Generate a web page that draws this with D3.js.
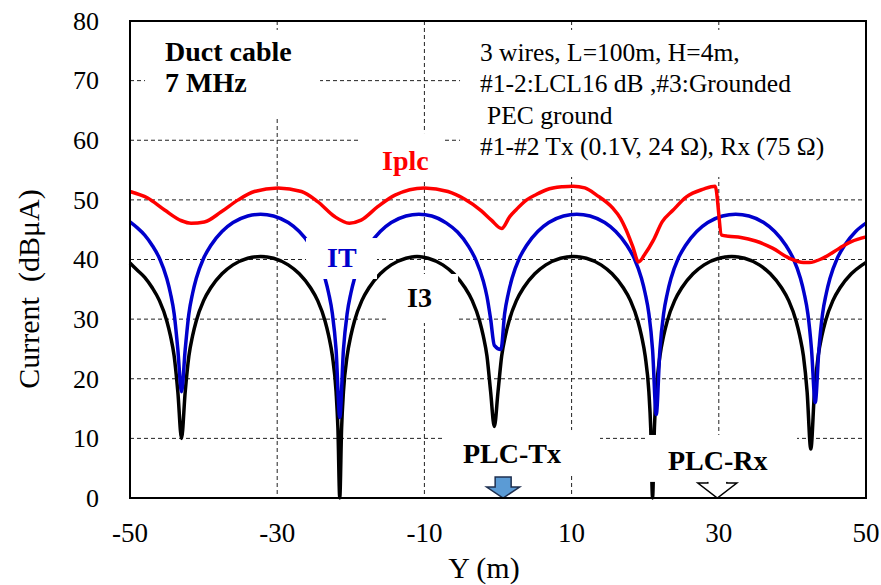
<!DOCTYPE html>
<html><head><meta charset="utf-8">
<script src="https://cdn.jsdelivr.net/npm/d3@7"></script>
<style>body{margin:0;background:#fff}</style>
</head><body>
<svg id="c" width="881" height="585"></svg>
<script>
// ---- data ----
const xTicks = [-50, -30, -10, 10, 30, 50];
const yTicks = [0, 10, 20, 30, 40, 50, 60, 70, 80];
const xGrid = [-30, -10, 10, 30];
const yGrid = [10, 20, 30, 40, 50, 60, 70];

// Iplc (red)  [Y (m), dBuA]
const iplc = [[-50,51.4],[-47.6,50.3],[-45.3,48.3],[-43,46.5],[-41.7,46.1],[-39.9,46.3],[-37.6,48.0],[-35.3,50.0],[-33.1,51.4],[-29.9,52.0],[-26.7,51.4],[-24.5,49.7],[-22.2,47.2],[-20.2,46.1],[-18.6,46.6],[-16.3,48.9],[-14,50.8],[-10,52.0],[-6.8,51.4],[-4.5,50.1],[-2.3,48.2],[-0.9,46.6],[0.5,45.2],[1.6,47.2],[2.5,48.4],[3.9,50.0],[5.2,50.9],[6.6,51.7],[8.8,52.2],[10.2,52.3],[11.8,52.0],[13.4,50.8],[15.6,48.6],[16.6,47.0],[17.4,45.0],[18.3,42.2],[19.1,39.6],[19.9,40.8],[21.1,43.2],[22.3,46.3],[23.8,48.3],[25.6,50.5],[27.9,51.8],[29.5,52.3],[30.4,44.1],[31.3,43.9],[33,43.7],[35,43.1],[37.3,41.9],[39.6,40.2],[41.5,39.5],[42.3,39.5],[44.1,40.2],[46.4,41.9],[48,43.0],[50,43.8]];

// IT (blue)
const it = [[-50,46.3],[-49,45.3],[-48,44.1],[-47,42.4],[-46,40.2],[-45,36.8],[-44.5,34.3],[-44,30.9],[-43.5,24.9],[-43,17.8],[-42.5,24.9],[-42,30.9],[-41.5,34.3],[-41,36.8],[-40,40.2],[-39,42.4],[-37.5,44.7],[-36,46.2],[-34,47.3],[-32.25,47.6],[-30.5,47.3],[-28.5,46.2],[-27,44.7],[-25.5,42.4],[-24.5,40.2],[-23.5,36.8],[-23,34.3],[-22.5,30.9],[-22,24.9],[-21.5,13.5],[-21,24.9],[-20.5,30.9],[-20,34.3],[-19.5,36.8],[-18.5,40.2],[-17.5,42.4],[-16,44.7],[-14.5,46.2],[-12.5,47.3],[-10.75,47.6],[-9,47.3],[-7,46.1],[-5.5,44.6],[-4,42.2],[-3,39.9],[-2,36.4],[-1.5,33.8],[-1,30.0],[-0.5,25.6],[0.4,24.9],[0.9,30.9],[1.4,34.3],[1.9,36.8],[2.9,40.2],[3.9,42.4],[5.4,44.7],[6.9,46.2],[8.9,47.3],[10.7,47.6],[12.5,47.3],[14.5,46.2],[16,44.7],[17.5,42.4],[18.5,40.2],[19.5,36.8],[20,34.3],[20.5,30.9],[21,24.9],[21.5,14.0],[22,24.9],[22.5,30.9],[23,34.3],[23.5,36.8],[24.5,40.2],[25.5,42.4],[27,44.7],[28.5,46.2],[30.5,47.3],[32.3,47.6],[34.1,47.3],[36.1,46.2],[37.6,44.7],[39.1,42.4],[40.1,40.2],[41.1,36.8],[41.6,34.3],[42.1,30.9],[42.6,24.9],[43.1,16.0],[43.6,24.9],[44.1,30.9],[44.6,34.3],[45.1,36.8],[46.1,40.2],[47.1,42.4],[48.6,44.7],[50,46.1]];

// I3 (black)
const i3 = [[-50,39.4],[-49,38.2],[-48,37.0],[-47,35.3],[-46,33.1],[-45,29.7],[-44.5,27.2],[-44,23.8],[-43.5,17.8],[-43,10.0],[-42.5,17.8],[-42,23.8],[-41.5,27.2],[-41,29.7],[-40,33.1],[-39,35.3],[-37.5,37.6],[-36,39.1],[-34,40.2],[-32.25,40.5],[-30.5,40.2],[-28.5,39.1],[-27,37.6],[-25.5,35.3],[-24.5,33.1],[-23.5,29.7],[-23,27.2],[-22.5,23.8],[-22,17.8],[-21.75,11.7],[-21.5,0],[-21.25,11.7],[-21,17.8],[-20.5,23.8],[-20,27.2],[-19.5,29.7],[-18.5,33.1],[-17.5,35.3],[-16,37.6],[-14.5,39.1],[-12.5,40.2],[-11,40.5],[-9.5,40.2],[-7.5,39.1],[-6,37.6],[-4.5,35.3],[-3.5,33.1],[-2.5,29.7],[-2,27.2],[-1.5,23.8],[-1,17.8],[-0.5,12.0],[0,17.8],[0.5,23.8],[1,27.2],[1.5,29.7],[2.5,33.1],[3.5,35.3],[5,37.6],[6.5,39.1],[8.5,40.2],[10.25,40.5],[12,40.2],[14,39.1],[15.5,37.6],[17,35.3],[18,33.1],[19,29.7],[19.5,27.2],[20,23.8],[20.5,17.8],[20.75,11.7],[21,0],[21.25,11.7],[21.5,17.8],[22,23.8],[22.5,27.2],[23,29.7],[24,33.1],[25,35.3],[26.5,37.6],[28,39.1],[30,40.2],[31.75,40.5],[33.5,40.2],[35.5,39.1],[37,37.6],[38.5,35.3],[39.5,33.1],[40.5,29.7],[41,27.2],[41.5,23.8],[42,17.8],[42.5,8.2],[43,17.8],[43.5,23.8],[44,27.2],[44.5,29.7],[45.5,33.1],[46.5,35.3],[48,37.6],[49.5,39.1],[50,39.5]];

const markers = [{label: "PLC-Tx", pos: 0.7}, {label: "PLC-Rx", pos: 29.8}];
const infoLines = ["3 wires, L=100m, H=4m,", "#1-2:LCL16 dB ,#3:Grounded", "PEC ground", "#1-#2 Tx (0.1V, 24 \u03A9), Rx (75 \u03A9)"];
const titleLines = ["Duct cable", "7 MHz"];

// ---- layout ----
const svg = d3.select("#c");
const L = 130, R = 866, T = 21, B = 498;
const x = d3.scaleLinear().domain([-50, 50]).range([L, R]);
const y = d3.scaleLinear().domain([0, 80]).range([B, T]);
const FONT = "'Liberation Serif','Times New Roman',serif";

// grid
const g = svg.append("g");
g.selectAll("line.h").data(yGrid).join("line")
  .attr("x1", L).attr("x2", R).attr("y1", d => y(d)).attr("y2", d => y(d))
  .attr("stroke", "#222").attr("stroke-width", 1).attr("stroke-dasharray", "4,3");
g.selectAll("line.v").data(xGrid).join("line")
  .attr("y1", T).attr("y2", B).attr("x1", d => x(d)).attr("x2", d => x(d))
  .attr("stroke", "#222").attr("stroke-width", 1).attr("stroke-dasharray", "4,3");

// curves
const line = d3.line().x(d => x(d[0])).y(d => y(d[1])).curve(d3.curveMonotoneX);
const series = [{d: i3, c: "#000000"}, {d: it, c: "#0000cc"}, {d: iplc, c: "#ff0000"}];
svg.selectAll("path.s").data(series).join("path")
  .attr("d", s => line(s.d)).attr("fill", "none").attr("stroke", s => s.c)
  .attr("stroke-width", 3.5).attr("stroke-linejoin", "round");

// arrows
const tx = x(markers[0].pos);
svg.append("path")
  .attr("d", `M${tx-8},${B-21} L${tx+8},${B-21} L${tx+8},${B-11} L${tx+16.5},${B-11} L${tx},${B} L${tx-16.5},${B-11} L${tx-8},${B-11} Z`)
  .attr("fill", "#5b9bd5").attr("stroke", "#1f3050").attr("stroke-width", 1.5);
const rx = x(markers[1].pos);
svg.append("path")
  .attr("d", `M${rx-9.5},${B-28} L${rx-9.5},${B-15} L${rx-19.5},${B-15} L${rx},${B} L${rx+19.5},${B-15} L${rx+9.5},${B-15} L${rx+9.5},${B-28} Z`)
  .attr("fill", "#fff").attr("stroke", "#000").attr("stroke-width", 1.5);

// white label backgrounds (data coords)
const boxes = [
  [-47.96, -24.18, 78.5, 63.9],
  [-5.16, 50, 78.5, 53.84],
  [-18.75, -7.47, 61.2, 53.0],
  [-26.09, -16.44, 43.6, 36.73],
  [-15.08, -5.43, 37.57, 29.35],
  [-7.2, 13.86, 11.4, 3.7],
  [20.38, 40.63, 10.57, 2.7]
];
svg.selectAll("rect.bg").data(boxes).join("rect")
  .attr("x", b => x(b[0])).attr("width", b => x(b[1]) - x(b[0]))
  .attr("y", b => y(b[2])).attr("height", b => y(b[3]) - y(b[2]))
  .attr("fill", "#fff");

// frame
svg.append("rect").attr("x", L).attr("y", T).attr("width", R - L).attr("height", B - T)
  .attr("fill", "none").attr("stroke", "#000").attr("stroke-width", 2);

// ticks
svg.selectAll("text.yt").data(yTicks).join("text")
  .attr("x", L - 31).attr("y", d => y(d)).attr("dy", "0.34em")
  .attr("text-anchor", "end").attr("font-family", FONT).attr("font-size", 26)
  .text(d => d);
svg.selectAll("text.xt").data(xTicks).join("text")
  .attr("x", d => x(d)).attr("y", B + 44)
  .attr("text-anchor", "middle").attr("font-family", FONT).attr("font-size", 27)
  .text(d => d);

// axis titles
svg.append("text").attr("x", 484).attr("y", 578).attr("text-anchor", "middle")
  .attr("font-family", FONT).attr("font-size", 30).text("Y (m)");
svg.append("text").attr("transform", "translate(39,289) rotate(-90)")
  .attr("text-anchor", "middle").attr("font-family", FONT).attr("font-size", 30)
  .attr("xml:space", "preserve").text("Current  (dB\u03BCA)");

// title block
svg.selectAll("text.tt").data(titleLines).join("text")
  .attr("x", x(-45.24)).attr("y", (d, i) => y(73.29) + i * 31)
  .attr("font-family", FONT).attr("font-size", 28).attr("font-weight", "bold").text(d => d);

// info block
svg.selectAll("text.info").data(infoLines).join("text")
  .attr("x", (d, i) => i === 2 ? x(-1.49) : x(-2.45)).attr("y", (d, i) => y(73.29) + i * 31.3)
  .attr("font-family", FONT).attr("font-size", 25.5).text(d => d);

// series labels
const labels = [
  {t: "Iplc", X: -15.76, V: 55.01, c: "#ff0000"},
  {t: "IT", X: -23.23, V: 38.74, c: "#0000cc"},
  {t: "I3", X: -12.36, V: 32.03, c: "#000"},
  {t: markers[0].label, X: -4.76, V: 5.87, c: "#000"},
  {t: markers[1].label, X: 23.1, V: 4.70, c: "#000"}
];
svg.selectAll("text.lb").data(labels).join("text")
  .attr("x", d => x(d.X)).attr("y", d => y(d.V)).attr("fill", d => d.c)
  .attr("font-family", FONT).attr("font-size", 28).attr("font-weight", "bold").text(d => d.t);
</script>
</body></html>
